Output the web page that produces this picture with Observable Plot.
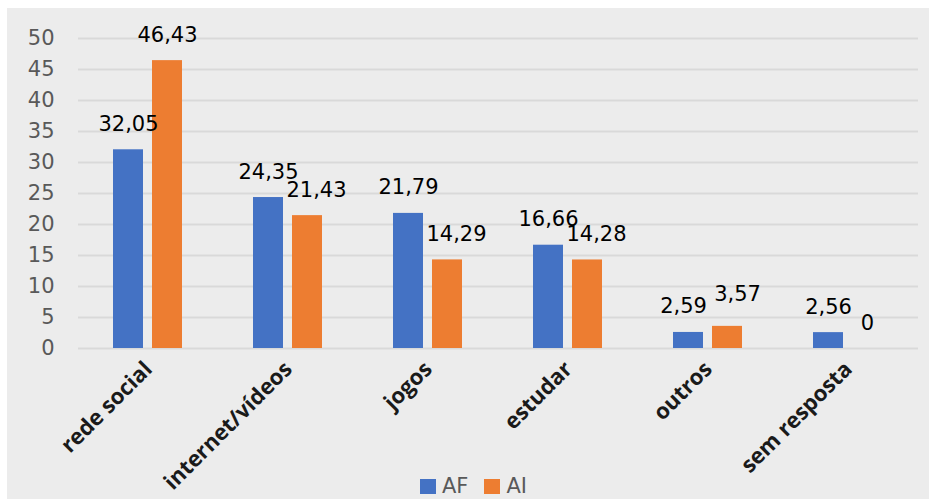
<!DOCTYPE html>
<html>
<head>
<meta charset="utf-8">
<script src="https://cdn.jsdelivr.net/npm/d3@7"></script>
<script src="https://cdn.jsdelivr.net/npm/@observablehq/plot@0.6"></script>
<style>
  html, body { margin: 0; padding: 0; background: #ffffff; }
  #panel { position: absolute; left: 7px; top: 8px; width: 922px; height: 491px; background: #ececec; overflow: hidden; }
  #chart { position: absolute; left: 0; top: 0; }
  #legend { position: absolute; left: 413px; top: 466px; display: flex; align-items: center; font-family: "DejaVu Sans", sans-serif; font-size: 21px; color: #595959; }
  #legend .sw { display: inline-block; width: 16px; height: 15px; margin-right: 6px; }
  #legend .item { display: flex; align-items: center; margin-right: 16px; }
</style>
</head>
<body>
<div id="panel">
  <div id="chart"></div>
  <div id="legend"></div>
</div>
<script>
const categories = ["rede social", "internet/vídeos", "jogos", "estudar", "outros", "sem resposta"];
const seriesNames = ["AF", "AI"];
const seriesColors = ["#4472c4", "#ed7d31"];
const valuesAF = [32.05, 24.35, 21.79, 16.66, 2.59, 2.56];
const valuesAI = [46.43, 21.43, 14.29, 14.28, 3.57, 0];
const yTicks = [0, 5, 10, 15, 20, 25, 30, 35, 40, 45, 50];

const data = [];
categories.forEach((c, i) => {
  data.push({category: c, series: "AF", value: valuesAF[i], other: valuesAI[i]});
  data.push({category: c, series: "AI", value: valuesAI[i], other: valuesAF[i]});
});
const fmt = v => v === 0 ? "0" : v.toFixed(2).replace(".", ",");
// label collision nudging (as the spreadsheet does): labels of neighbouring bars that are close in height
const close = d => d.value > 0 && d.other > 0 && Math.abs(d.value - d.other) < 12;
const labelOpts = {fx: "category", x: "series", y: "value", text: d => fmt(d.value), lineAnchor: "bottom", dy: -19, fontSize: 21, fill: "#000000"};

const chart = Plot.plot({
  width: 922,
  height: 491,
  marginTop: 30,
  marginBottom: 151,
  marginLeft: 70,
  marginRight: 10,
  style: {background: "transparent", fontFamily: "DejaVu Sans, sans-serif", overflow: "visible"},
  fx: {domain: categories, padding: 0, label: null},
  x: {domain: seriesNames, paddingInner: 0.22, paddingOuter: 0.864, axis: null},
  y: {domain: [0, 50], label: null},
  color: {domain: seriesNames, range: seriesColors},
  marks: [
    Plot.ruleY(yTicks, {stroke: "#d9d9d9", strokeWidth: 2}),
    Plot.axisY({ticks: yTicks, tickSize: 0, tickPadding: 24, fontSize: 21, fill: "#595959", label: null}),
    Plot.axisFx({anchor: "bottom", tickRotate: -45, tickSize: 0, tickPadding: 17, fontSize: 22, fontWeight: "bold", fontFamily: "Open Sans, sans-serif", fill: "#1a1a1a", label: null}),
    Plot.barY(data, {fx: "category", x: "series", y: "value", fill: "series"}),
    Plot.text(data, {...labelOpts, filter: d => !close(d)}),
    Plot.text(data, {...labelOpts, filter: d => close(d) && d.series === "AF" && d.value < 5, dx: -5}),
    Plot.text(data, {...labelOpts, filter: d => close(d) && d.series === "AF" && d.value >= 5}),
    Plot.text(data, {...labelOpts, filter: d => close(d) && d.series === "AI" && d.value >= 5, dx: 9}),
    Plot.text(data, {...labelOpts, filter: d => close(d) && d.series === "AI" && d.value < 5, dx: 10, dy: -25})
  ]
});
document.getElementById("chart").appendChild(chart);

const legend = document.getElementById("legend");
seriesNames.forEach((s, i) => {
  const item = document.createElement("span");
  item.className = "item";
  const sw = document.createElement("span");
  sw.className = "sw";
  sw.style.background = seriesColors[i];
  item.appendChild(sw);
  item.appendChild(document.createTextNode(s));
  legend.appendChild(item);
});
</script>
</body>
</html>
